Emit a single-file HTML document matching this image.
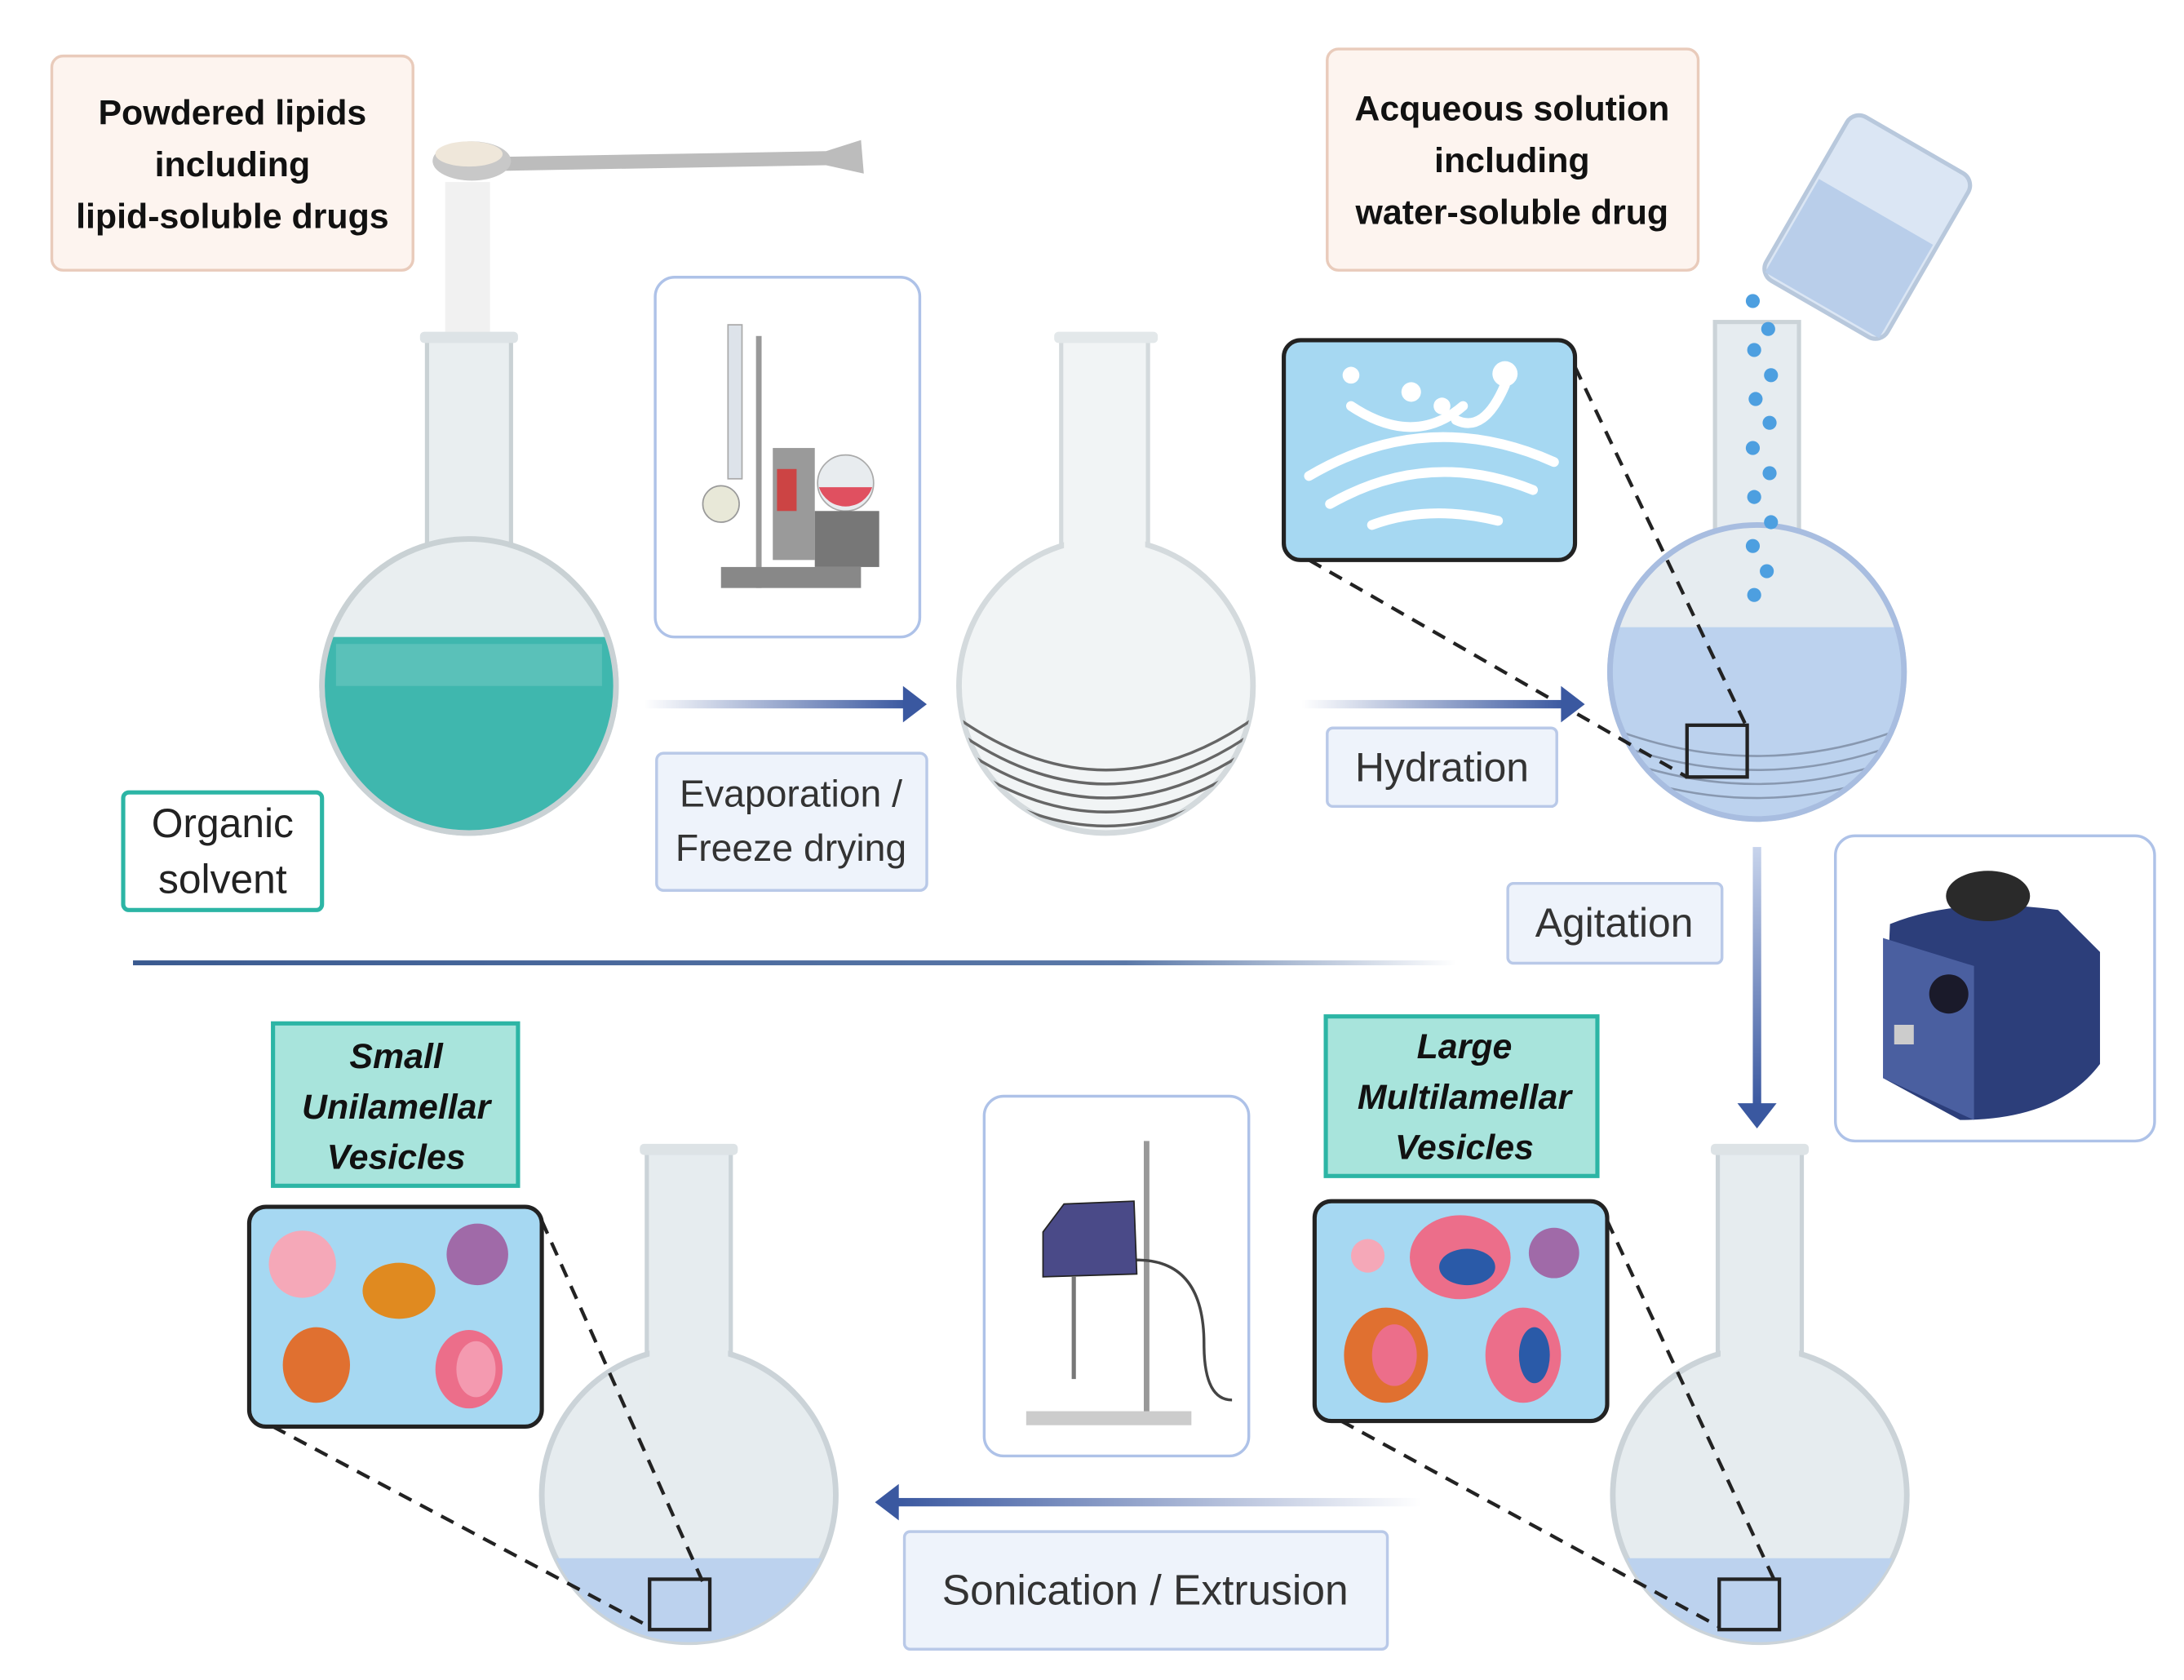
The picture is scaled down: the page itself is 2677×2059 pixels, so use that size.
<!DOCTYPE html>
<html><head><meta charset="utf-8"><style>
html,body{margin:0;padding:0;background:#fff;}
svg{display:block;}
text{font-family:"Liberation Sans",sans-serif;}
</style></head><body>
<svg width="2677" height="2059" viewBox="0 0 1560 1200" preserveAspectRatio="none" xmlns="http://www.w3.org/2000/svg">
<defs>
<linearGradient id="hl" x1="0" x2="1"><stop offset="0" stop-color="#3a5a90"/><stop offset="0.75" stop-color="#5a78a8"/><stop offset="1" stop-color="#fff"/></linearGradient>
<linearGradient id="ar" x1="0" x2="1"><stop offset="0" stop-color="#fff"/><stop offset="1" stop-color="#3a58a0"/></linearGradient>
<linearGradient id="al" x1="1" x2="0"><stop offset="0" stop-color="#fff"/><stop offset="1" stop-color="#3a58a0"/></linearGradient>
<linearGradient id="av" x1="0" y1="0" x2="0" y2="1"><stop offset="0" stop-color="#c8d4ec"/><stop offset="1" stop-color="#3a58a0"/></linearGradient>
<clipPath id="b1"><circle cx="335" cy="490" r="105"/></clipPath>
<clipPath id="b2"><circle cx="790" cy="490" r="105"/></clipPath>
<clipPath id="b3"><circle cx="1255" cy="480" r="105"/></clipPath>
<clipPath id="b4"><circle cx="492" cy="1068" r="105"/></clipPath>
<clipPath id="b5"><circle cx="1257" cy="1068" r="105"/></clipPath>
</defs>

<rect x="37" y="40" width="258" height="153" rx="8" fill="#fdf4ef" stroke="#e9cbbb" stroke-width="2"/>
<text x="166" y="89" font-size="25" font-weight="bold" text-anchor="middle" fill="#111">Powdered lipids</text>
<text x="166" y="126" font-size="25" font-weight="bold" text-anchor="middle" fill="#111">including</text>
<text x="166" y="163" font-size="25" font-weight="bold" text-anchor="middle" fill="#111">lipid-soluble drugs</text>
<path d="M360 112 L590 108 L615 100 L617 124 L590 118 L360 122 Z" fill="#bcbcbc"/>
<ellipse cx="337" cy="115" rx="28" ry="14" fill="#c8c8c8"/>
<ellipse cx="335" cy="110" rx="24" ry="9" fill="#efe7da"/>
<rect x="318" y="130" width="32" height="110" fill="#f1f1f1"/>

<g>
<rect x="305" y="240" width="60" height="200" fill="#e9eef0" stroke="#c9d1d4" stroke-width="3"/>
<circle cx="335" cy="490" r="105" fill="#e9eef0" stroke="#c9d1d4" stroke-width="4"/>
<rect x="307" y="300" width="56" height="150" fill="#e9eef0"/>
<rect x="300" y="237" width="70" height="8" rx="3" fill="#dde3e6"/>
<rect x="210" y="455" width="250" height="160" fill="#3fb7ae" clip-path="url(#b1)"/>
<circle cx="335" cy="490" r="105" fill="none" stroke="#c9d1d4" stroke-width="4"/>
<rect x="240" y="460" width="190" height="30" fill="#6cc8c0" opacity="0.6" clip-path="url(#b1)"/>
</g>
<rect x="88" y="566" width="142" height="84" rx="4" fill="#fff" stroke="#2cb5a5" stroke-width="3"/>
<text x="159" y="598" font-size="29" text-anchor="middle" fill="#222">Organic</text>
<text x="159" y="638" font-size="29" text-anchor="middle" fill="#222">solvent</text>

<rect x="468" y="198" width="189" height="257" rx="14" fill="#fff" stroke="#aec2e8" stroke-width="2"/>
<rect x="520" y="232" width="10" height="110" fill="#dde3ea" stroke="#aaa"/>
<rect x="540" y="240" width="4" height="180" fill="#999"/>
<rect x="552" y="320" width="30" height="80" fill="#9a9a9a"/>
<rect x="555" y="335" width="14" height="30" fill="#c44"/>
<circle cx="604" cy="345" r="20" fill="#e8ecef" stroke="#aaa"/>
<path d="M585 348 A20 20 0 0 0 623 348 Z" fill="#e05060"/>
<rect x="582" y="365" width="46" height="40" fill="#777"/>
<circle cx="515" cy="360" r="13" fill="#e8e8d8" stroke="#999"/>
<rect x="515" y="405" width="100" height="15" fill="#888"/>

<rect x="460" y="500" width="188" height="6" fill="url(#ar)"/>
<path d="M645 490 L662 503 L645 516 Z" fill="#3a58a0"/>
<rect x="469" y="538" width="193" height="98" rx="5" fill="#eef3fb" stroke="#b9c9e8" stroke-width="2"/>
<text x="565" y="576" font-size="27" text-anchor="middle" fill="#333">Evaporation /</text>
<text x="565" y="615" font-size="27" text-anchor="middle" fill="#333">Freeze drying</text>

<rect x="758" y="240" width="62" height="200" fill="#f1f4f5" stroke="#d4dadd" stroke-width="3"/>
<circle cx="790" cy="490" r="105" fill="#f1f4f5" stroke="#d4dadd" stroke-width="4"/>
<rect x="760" y="320" width="58" height="120" fill="#f1f4f5"/>
<rect x="753" y="237" width="74" height="8" rx="3" fill="#e3e8ea"/>
<g clip-path="url(#b2)" fill="none" stroke="#666" stroke-width="2">
<path d="M680 510 Q790 590 900 510"/><path d="M680 520 Q790 600 900 520"/><path d="M680 530 Q790 610 900 530"/><path d="M680 540 Q790 620 900 540"/><path d="M680 550 Q790 630 900 550"/><path d="M680 560 Q790 640 900 560"/>
</g>

<rect x="948" y="35" width="265" height="158" rx="8" fill="#fdf4ef" stroke="#e9cbbb" stroke-width="2"/>
<text x="1080" y="86" font-size="25" font-weight="bold" text-anchor="middle" fill="#111">Acqueous solution</text>
<text x="1080" y="123" font-size="25" font-weight="bold" text-anchor="middle" fill="#111">including</text>
<text x="1080" y="160" font-size="25" font-weight="bold" text-anchor="middle" fill="#111">water-soluble drug</text>
<g transform="rotate(30 1335 160)">
<rect x="1285" y="95" width="100" height="135" rx="10" fill="#dbe6f4" stroke="#b8c8dc" stroke-width="3"/>
<rect x="1288" y="150" width="94" height="77" fill="#b9ceea"/>
</g>

<rect x="1225" y="230" width="60" height="200" fill="#e6ecf0" stroke="#cbd3d8" stroke-width="3"/>
<circle cx="1255" cy="480" r="105" fill="#e6ecf0" stroke="#cbd3d8" stroke-width="4"/>
<rect x="1227" y="300" width="56" height="130" fill="#e6ecf0"/>
<rect x="1148" y="448" width="215" height="140" fill="#bcd2ee" clip-path="url(#b3)"/>
<g clip-path="url(#b3)" fill="none" stroke="#8898b0" stroke-width="1.5">
<path d="M1150 520 Q1255 560 1360 520"/><path d="M1150 530 Q1255 570 1360 530"/><path d="M1150 540 Q1255 580 1360 540"/><path d="M1150 550 Q1255 590 1360 550"/>
</g>
<circle cx="1255" cy="480" r="105" fill="none" stroke="#a8bde0" stroke-width="4"/>
<g fill="#4d9fe0">
<circle cx="1252" cy="215" r="5"/><circle cx="1263" cy="235" r="5"/><circle cx="1253" cy="250" r="5"/><circle cx="1265" cy="268" r="5"/><circle cx="1254" cy="285" r="5"/><circle cx="1264" cy="302" r="5"/><circle cx="1252" cy="320" r="5"/><circle cx="1264" cy="338" r="5"/><circle cx="1253" cy="355" r="5"/><circle cx="1265" cy="373" r="5"/><circle cx="1252" cy="390" r="5"/><circle cx="1262" cy="408" r="5"/><circle cx="1253" cy="425" r="5"/>
</g>

<rect x="917" y="243" width="208" height="157" rx="12" fill="#a6d8f2" stroke="#222" stroke-width="3"/>
<g fill="none" stroke="#fff" stroke-width="7" stroke-linecap="round">
<path d="M935 340 Q1020 290 1110 330"/><path d="M950 360 Q1020 320 1095 350"/><path d="M980 375 Q1020 360 1070 372"/>
<path d="M965 290 Q1010 320 1045 290"/><path d="M1040 300 Q1060 310 1075 275"/>
</g>
<g fill="#fff"><circle cx="965" cy="268" r="6"/><circle cx="1008" cy="280" r="7"/><circle cx="1075" cy="267" r="9"/><circle cx="1030" cy="290" r="6"/></g>
<g stroke="#222" stroke-width="2.5" stroke-dasharray="10 7" fill="none">
<line x1="1125" y1="262" x2="1248" y2="520"/><line x1="935" y1="400" x2="1205" y2="555"/>
</g>
<rect x="1205" y="518" width="43" height="37" fill="none" stroke="#222" stroke-width="2.5"/>

<rect x="930" y="500" width="188" height="6" fill="url(#ar)"/>
<path d="M1115 490 L1132 503 L1115 516 Z" fill="#3a58a0"/>
<rect x="948" y="520" width="164" height="56" rx="4" fill="#eef3fb" stroke="#b9c9e8" stroke-width="2"/>
<text x="1030" y="558" font-size="29" text-anchor="middle" fill="#333">Hydration</text>

<rect x="1252" y="605" width="6" height="185" fill="url(#av)"/>
<path d="M1241 788 L1255 806 L1269 788 Z" fill="#3a58a0"/>
<rect x="1077" y="631" width="153" height="57" rx="4" fill="#eef3fb" stroke="#b9c9e8" stroke-width="2"/>
<text x="1153" y="669" font-size="29" text-anchor="middle" fill="#333">Agitation</text>
<rect x="1311" y="597" width="228" height="218" rx="14" fill="#fff" stroke="#aec2e8" stroke-width="2"/>
<path d="M1350 660 Q1400 640 1470 650 L1500 680 L1500 760 Q1470 800 1400 800 L1345 770 Z" fill="#2c3e7a"/>
<ellipse cx="1420" cy="640" rx="30" ry="18" fill="#2a2a2a"/>
<path d="M1345 670 L1410 690 L1410 800 L1345 770 Z" fill="#4a5fa0"/>
<circle cx="1392" cy="710" r="14" fill="#1a1a2a"/>
<rect x="1353" y="732" width="14" height="14" fill="#ccc"/>

<rect x="95" y="686" width="945" height="3.5" fill="url(#hl)"/>

<rect x="195" y="731" width="175" height="116" fill="#a8e4dc" stroke="#2cb5a5" stroke-width="3"/>
<text x="283" y="763" font-size="25" font-weight="bold" font-style="italic" text-anchor="middle" fill="#111">Small</text>
<text x="283" y="799" font-size="25" font-weight="bold" font-style="italic" text-anchor="middle" fill="#111">Unilamellar</text>
<text x="283" y="835" font-size="25" font-weight="bold" font-style="italic" text-anchor="middle" fill="#111">Vesicles</text>
<rect x="178" y="862" width="209" height="157" rx="12" fill="#a6d8f2" stroke="#222" stroke-width="3"/>
<circle cx="216" cy="903" r="24" fill="#f5a8b8"/>
<circle cx="341" cy="896" r="22" fill="#a06aa8"/>
<ellipse cx="285" cy="922" rx="26" ry="20" fill="#e08a20"/>
<ellipse cx="226" cy="975" rx="24" ry="27" fill="#e07030"/>
<ellipse cx="335" cy="978" rx="24" ry="28" fill="#ec6e8a"/>
<ellipse cx="340" cy="978" rx="14" ry="20" fill="#f49ab0"/>

<rect x="462" y="820" width="60" height="200" fill="#e6ecef" stroke="#cbd3d8" stroke-width="3"/>
<circle cx="492" cy="1068" r="105" fill="#e6ecef" stroke="#cbd3d8" stroke-width="4"/>
<rect x="464" y="900" width="56" height="120" fill="#e6ecef"/>
<rect x="457" y="817" width="70" height="8" rx="3" fill="#dde3e6"/>
<rect x="380" y="1113" width="230" height="70" fill="#bcd2ee" clip-path="url(#b4)"/>
<g stroke="#222" stroke-width="2.5" stroke-dasharray="10 7" fill="none">
<line x1="387" y1="872" x2="502" y2="1130"/><line x1="195" y1="1019" x2="464" y2="1162"/>
</g>
<rect x="464" y="1128" width="43" height="36" fill="none" stroke="#222" stroke-width="2.5"/>

<rect x="703" y="783" width="189" height="257" rx="14" fill="#fff" stroke="#aec2e8" stroke-width="2"/>
<rect x="817" y="815" width="4" height="200" fill="#999"/>
<rect x="733" y="1008" width="118" height="10" fill="#ccc"/>
<path d="M745 880 L760 860 L810 858 L812 910 L745 912 Z" fill="#4a4a88" stroke="#222"/>
<line x1="767" y1="912" x2="767" y2="985" stroke="#777" stroke-width="3"/>
<path d="M812 900 Q860 900 860 960 Q860 1000 880 1000" fill="none" stroke="#444" stroke-width="2"/>

<rect x="947" y="726" width="194" height="114" fill="#a8e4dc" stroke="#2cb5a5" stroke-width="3"/>
<text x="1046" y="756" font-size="25" font-weight="bold" font-style="italic" text-anchor="middle" fill="#111">Large</text>
<text x="1046" y="792" font-size="25" font-weight="bold" font-style="italic" text-anchor="middle" fill="#111">Multilamellar</text>
<text x="1046" y="828" font-size="25" font-weight="bold" font-style="italic" text-anchor="middle" fill="#111">Vesicles</text>
<rect x="939" y="858" width="209" height="157" rx="12" fill="#a6d8f2" stroke="#222" stroke-width="3"/>
<circle cx="977" cy="897" r="12" fill="#f5a8b8"/>
<circle cx="1110" cy="895" r="18" fill="#a06aa8"/>
<ellipse cx="1043" cy="898" rx="36" ry="30" fill="#ec6e8a"/>
<ellipse cx="1048" cy="905" rx="20" ry="13" fill="#2a5aa8"/>
<ellipse cx="990" cy="968" rx="30" ry="34" fill="#e07030"/>
<ellipse cx="996" cy="968" rx="16" ry="22" fill="#ec6e8a"/>
<ellipse cx="1088" cy="968" rx="27" ry="34" fill="#ec6e8a"/>
<ellipse cx="1096" cy="968" rx="11" ry="20" fill="#2a5aa8"/>

<rect x="1227" y="820" width="60" height="200" fill="#e6ecef" stroke="#cbd3d8" stroke-width="3"/>
<circle cx="1257" cy="1068" r="105" fill="#e6ecef" stroke="#cbd3d8" stroke-width="4"/>
<rect x="1229" y="900" width="56" height="120" fill="#e6ecef"/>
<rect x="1222" y="817" width="70" height="8" rx="3" fill="#dde3e6"/>
<rect x="1145" y="1113" width="230" height="70" fill="#bcd2ee" clip-path="url(#b5)"/>
<g stroke="#222" stroke-width="2.5" stroke-dasharray="10 7" fill="none">
<line x1="1148" y1="872" x2="1268" y2="1130"/><line x1="958" y1="1015" x2="1228" y2="1162"/>
</g>
<rect x="1228" y="1128" width="43" height="36" fill="none" stroke="#222" stroke-width="2.5"/>

<rect x="640" y="1070" width="375" height="6" fill="url(#al)"/>
<path d="M642 1060 L625 1073 L642 1086 Z" fill="#3a58a0"/>
<rect x="646" y="1094" width="345" height="84" rx="4" fill="#eef3fb" stroke="#b9c9e8" stroke-width="2"/>
<text x="818" y="1146" font-size="30" text-anchor="middle" fill="#333">Sonication / Extrusion</text>
</svg>
</body></html>
